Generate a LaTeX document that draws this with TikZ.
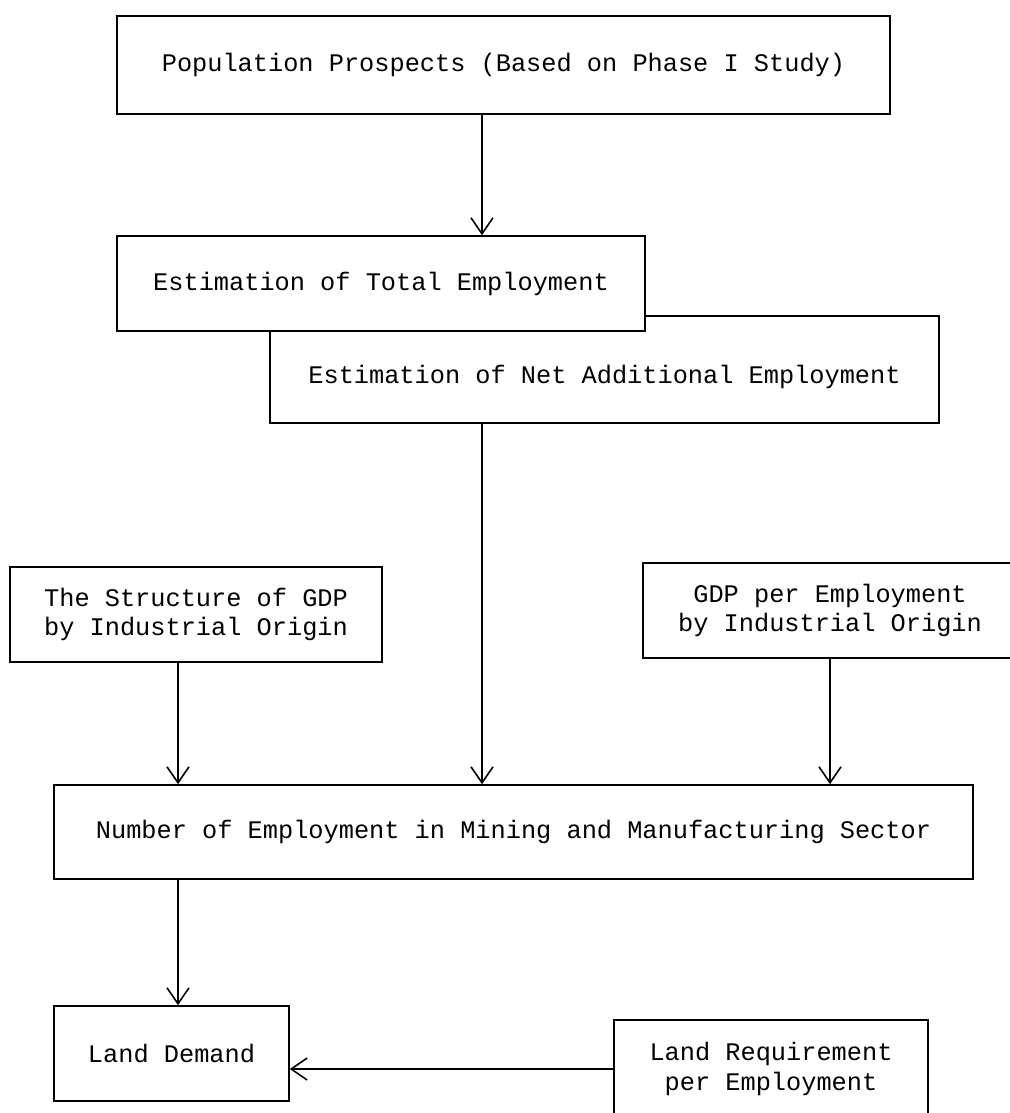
\documentclass[tikz,border=0pt]{standalone}
\usepackage{fontspec}
\setmainfont{Liberation Mono}
\usepackage{tikz}
\usetikzlibrary{calc,positioning,arrows.meta}
\tikzset{
  box/.style={rectangle,draw,fill=white,line width=0.9pt,align=center,inner sep=0pt},
  arr/.style={line width=0.9pt,-{Straight Barb[length=3.2mm,width=4.4mm,line width=0.9pt]}}
}

\begin{document}
\begin{tikzpicture}[font=\fontsize{14.4pt}{17pt}\selectfont]
\useasboundingbox (0,0) rectangle (20.18,-22.26);
\coordinate (col) at (9.64,0);
\coordinate (lcol) at (3.56,0);
\node (pop) [box,minimum width=15.46cm,minimum height=1.96cm] at (10.07,-1.30) {Population Prospects (Based on Phase I Study)};
\node (net) [box,minimum width=13.38cm,minimum height=2.14cm,text height=0.7cm,text depth=0.13cm] at (12.09,-7.39) {Estimation of Net Additional Employment};
\node (tot) [box,minimum width=10.56cm,minimum height=1.90cm] at (7.62,-5.67) {Estimation of Total Employment};
\node (struc) [box,minimum width=7.44cm,minimum height=1.90cm] at (3.92,-12.29) {The Structure of GDP\\by Industrial Origin};
\node (gdpemp) [box,minimum width=7.48cm,minimum height=1.90cm] at (16.60,-12.21) {GDP per Employment\\by Industrial Origin};
\node (num) [box,minimum width=18.38cm,minimum height=1.88cm] at (10.27,-16.64) {Number of Employment in Mining and Manufacturing Sector};
\node (land) [box,minimum width=4.70cm,minimum height=1.90cm] at (3.43,-21.07) {Land Demand};
\node (req) [box,minimum width=6.28cm,minimum height=1.96cm] at (15.42,-21.38) {Land Requirement\\per Employment};
\draw [arr] (pop.south -| col) -- (tot.north -| col);
\draw [arr] (net.south -| col) -- (num.north -| col);
\draw [arr] (struc.south -| lcol) -- (num.north -| lcol);
\draw [arr] (gdpemp.south) -- (num.north -| gdpemp.south);
\draw [arr] (num.south -| lcol) -- (land.north -| lcol);
\draw [arr] (req.west) -- (land.east |- req.west);
\end{tikzpicture}
\end{document}
